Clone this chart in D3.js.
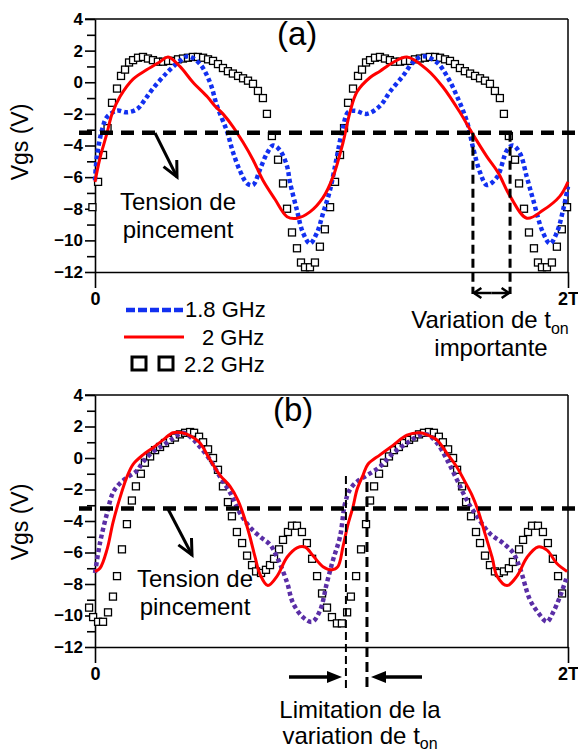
<!DOCTYPE html>
<html>
<head>
<meta charset="utf-8">
<script src="https://cdnjs.cloudflare.com/ajax/libs/d3/7.8.5/d3.min.js"></script>
<style>
	body { margin: 0; background: #fff; }
	svg { display: block; font-family: "Liberation Sans", Arial, sans-serif; }
	.ytk text { font-size: 17px; font-weight: bold; }
	.xtk text { font-size: 18px; font-weight: bold; }
</style>
</head>
<body>
<div id="chart"></div>
<script>
// time is in % of T (0..200 = 0..2T), Vgs in volts
var yTicks = [4, 2, 0, -2, -4, -6, -8, -10, -12];
var yMinor = [3, 1, -1, -3, -5, -7, -9, -11];
var xTickLabels = ["0", "2T"];
var seriesNames = ["1.8 GHz", "2 GHz", "2.2 GHz"];
var pinchOff = -3.2;

// (a)
var blueA = [[0,-6.2],[0.8,-4.7],[3.0,-3.0],[5.1,-2.2],[9.3,-1.8],[13.5,-1.9],[17.8,-1.7],[21.1,-1.1],[24.5,-0.4],[30.4,0.6],[35.9,1.35],[39.3,1.65],[44.4,1.15],[48.6,0.0],[51.6,-1.5],[55.8,-3.1],[58.3,-4.4],[61.3,-5.6],[64.3,-6.4],[66.8,-6.5],[69.8,-5.5],[72.7,-4.5],[75.3,-4.0],[78.2,-4.3],[81.2,-5.3],[82.4,-6.3],[85.4,-8.1],[87.9,-9.5],[90.9,-10.2],[93.9,-9.5],[96.4,-8.3],[99.4,-6.8],[102.3,-4.7],[104.9,-2.8],[107.0,-1.9],[109.9,-1.8],[115.0,-2.0],[120.5,-1.5],[124.7,-0.6],[130.2,0.4],[134.4,1.25],[138.7,1.65],[144.6,1.25],[148.8,0.4],[153.1,-0.9],[157.3,-2.5],[159.8,-4.1],[162.8,-5.7],[165.7,-6.5],[170.0,-6.0],[174.2,-4.3],[176.7,-4.0],[179.7,-4.5],[182.6,-6.0],[185.2,-7.4],[189.4,-9.5],[192.4,-10.2],[195.3,-9.5],[197.9,-8.1],[200,-6.6]];
var redA = [[0,-6.3],[2.1,-4.8],[5.1,-3.2],[7.2,-2.0],[10.6,-0.9],[16.1,0.2],[22.0,0.8],[27.5,1.3],[30.9,1.6],[35.9,1.0],[41.4,0.0],[47.4,-0.9],[50.7,-1.5],[54.1,-2.0],[58.3,-2.8],[62.6,-3.8],[66.8,-4.9],[71.0,-6.2],[76.1,-7.4],[81.2,-8.5],[85.4,-8.6],[90.9,-8.2],[96.4,-7.3],[100.6,-6.0],[104.9,-3.8],[107.8,-1.9],[110.8,-0.6],[116.3,0.3],[120.5,0.7],[126.0,1.25],[131.9,1.6],[140.4,0.8],[147.1,-0.3],[154.3,-1.9],[159.4,-3.2],[165.7,-4.7],[170.4,-5.7],[175.5,-7.2],[182.6,-8.6],[189.4,-8.1],[196.6,-7.2],[200,-6.3]];
var squaresA = [[-1.1,-7.9],[1.3,-6.3],[3.4,-4.6],[5.3,-2.9],[7.2,-1.3],[9.3,-0.4],[11.0,0.4],[12.7,0.8],[14.4,1.25],[16.1,1.4],[18.2,1.55],[20.3,1.6],[22.4,1.5],[24.5,1.4],[26.6,1.3],[28.8,1.3],[30.9,1.35],[33.0,1.35],[35.1,1.45],[37.2,1.5],[39.3,1.55],[41.4,1.6],[43.5,1.6],[45.7,1.55],[47.8,1.45],[49.9,1.35],[52.0,1.15],[54.1,0.9],[56.2,0.7],[58.3,0.55],[60.5,0.4],[62.6,0.25],[64.7,0.1],[66.8,-0.1],[68.9,-0.55],[71.0,-1.0],[72.7,-2.0],[74.8,-3.4],[77.4,-4.9],[79.5,-6.4],[81.2,-8.0],[83.3,-9.5],[85.4,-10.5],[87.1,-11.4],[88.8,-11.7],[90.9,-11.7],[93.0,-11.4],[95.1,-10.4],[97.2,-9.3],[99.4,-7.9],[101.5,-6.3],[103.6,-4.6],[105.3,-2.9],[107.0,-1.3],[109.1,-0.4],[111.2,0.4],[112.9,0.8],[114.6,1.25],[116.3,1.4],[118.4,1.55],[120.5,1.6],[122.6,1.5],[124.7,1.4],[126.8,1.3],[129.0,1.3],[131.1,1.35],[133.2,1.35],[135.3,1.45],[137.4,1.5],[139.5,1.55],[141.6,1.6],[143.8,1.6],[145.9,1.55],[148.0,1.45],[150.1,1.35],[152.2,1.15],[154.3,0.9],[156.4,0.7],[158.6,0.55],[160.7,0.4],[162.8,0.25],[164.9,0.1],[167.0,-0.1],[169.1,-0.55],[171.2,-1.0],[172.9,-2.0],[175.0,-3.4],[177.6,-4.9],[179.3,-6.4],[181.4,-8.0],[183.5,-9.5],[185.6,-10.5],[187.3,-11.4],[189.0,-11.7],[191.1,-11.7],[193.2,-11.4],[195.3,-10.4],[197.4,-9.3],[199.6,-7.9]];

// (b)
var purpleB = [[0,-7.3],[2.1,-5.4],[5.1,-3.5],[7.6,-2.2],[10.6,-1.6],[14.0,-1.2],[17.8,-0.8],[20.3,-0.25],[24.5,0.4],[28.8,0.8],[33.0,1.25],[37.2,1.6],[41.0,1.25],[44.4,0.7],[48.6,-0.1],[52.9,-1.2],[57.1,-2.2],[61.3,-3.5],[65.5,-4.4],[69.8,-5.0],[74.0,-5.5],[77.0,-6.3],[81.2,-7.9],[83.7,-9.2],[87.9,-10.1],[91.8,-10.4],[95.1,-9.7],[98.1,-7.9],[100.6,-6.5],[103.6,-5.0],[105.7,-2.9],[107.8,-2.0],[110.8,-1.5],[115.0,-1.1],[120.5,-0.55],[126.0,0.3],[131.9,0.95],[136.1,1.35],[140.4,1.5],[144.6,0.95],[148.8,-0.1],[153.1,-1.4],[157.3,-2.7],[161.5,-3.7],[167.0,-4.8],[172.5,-5.4],[176.7,-6.0],[179.7,-7.0],[183.9,-9.0],[187.3,-9.8],[191.1,-10.4],[193.7,-9.8],[196.6,-8.8],[199.6,-7.5]];
var redB = [[0,-7.2],[2.1,-7.0],[5.1,-5.8],[7.6,-4.1],[10.6,-2.5],[13.5,-1.2],[16.1,-0.4],[20.3,0.2],[24.5,0.65],[28.8,1.15],[33.0,1.6],[36.8,1.6],[41.0,1.35],[44.4,0.95],[48.6,-0.1],[52.9,-1.1],[57.1,-1.8],[60.5,-2.7],[63.4,-3.9],[65.5,-5.0],[67.7,-6.3],[69.8,-7.4],[73.1,-8.1],[77.0,-7.5],[81.2,-6.3],[85.4,-5.7],[88.8,-5.65],[92.2,-6.2],[96.4,-6.9],[100.2,-7.1],[102.7,-6.9],[104.9,-5.6],[107.0,-4.2],[109.1,-3.1],[110.8,-2.0],[113.3,-1.1],[115.4,-0.4],[120.5,0.2],[126.0,0.8],[131.9,1.45],[137.4,1.6],[140.8,1.45],[144.6,1.15],[148.8,0.3],[153.1,-0.6],[156.4,-1.5],[159.4,-2.35],[161.9,-3.3],[164.9,-4.8],[167.9,-6.3],[170.0,-7.5],[174.2,-8.1],[178.4,-7.5],[182.7,-6.3],[187.3,-5.65],[191.1,-5.85],[195.3,-6.7],[199.6,-7.2]];
var squaresB = [[-2.5,-9.5],[-0.8,-10.1],[1.3,-10.4],[3.4,-10.4],[5.5,-9.8],[7.6,-8.8],[9.3,-7.5],[11.4,-5.8],[13.5,-4.2],[15.6,-2.7],[17.3,-1.8],[19.4,-1.0],[21.1,-0.3],[23.3,0.1],[25.4,0.5],[27.5,0.7],[29.6,0.95],[31.7,1.15],[33.8,1.3],[35.9,1.5],[38.1,1.6],[40.2,1.65],[41.9,1.6],[44.0,1.35],[45.7,1.0],[47.8,0.55],[49.9,0.0],[52.0,-0.75],[54.1,-1.8],[56.2,-2.8],[57.9,-3.7],[60.0,-4.7],[62.2,-5.4],[64.3,-6.2],[66.4,-6.8],[68.1,-7.2],[70.2,-7.3],[72.3,-7.1],[74.0,-6.8],[75.7,-6.4],[77.8,-5.8],[79.5,-5.2],[81.6,-4.7],[83.3,-4.3],[85.4,-4.3],[87.5,-4.7],[89.6,-5.4],[91.8,-6.4],[93.9,-7.5],[96.0,-8.6],[98.1,-9.5],[100.2,-10.1],[102.3,-10.5],[104.4,-10.5],[106.6,-9.8],[108.2,-8.8],[110.4,-7.5],[112.5,-5.8],[114.6,-4.2],[116.3,-2.7],[118.0,-1.8],[120.1,-1.0],[122.2,-0.3],[124.3,0.1],[126.4,0.5],[128.5,0.7],[130.6,0.95],[132.8,1.15],[134.9,1.3],[137.0,1.5],[139.1,1.6],[141.2,1.65],[143.3,1.6],[145.4,1.35],[147.1,1.0],[149.3,0.55],[151.4,0.0],[153.1,-0.75],[155.2,-1.8],[156.9,-2.8],[159.0,-3.7],[161.1,-4.7],[162.8,-5.4],[164.9,-6.2],[167.0,-6.8],[169.1,-7.2],[170.8,-7.3],[172.9,-7.2],[175.0,-7.0],[176.7,-6.6],[179.3,-5.8],[181.0,-5.2],[183.1,-4.7],[184.8,-4.3],[187.3,-4.3],[189.4,-4.7],[191.5,-5.4],[193.6,-6.4],[195.8,-7.5],[197.5,-8.6]];

var W = 578, H = 754;
var svg = d3.select("#chart").append("svg").attr("width", W).attr("height", H);
var x = d3.scaleLinear().domain([0, 200]).range([95, 568]);

var line = d3.line().curve(d3.curveCatmullRom.alpha(0.5))
	.x(function(d) { return x(d[0]); });

function openArrow(g, x1, y1, x2, y2, len, ang, w) {
	g.append("line").attr("x1", x1).attr("y1", y1).attr("x2", x2).attr("y2", y2)
		.attr("stroke", "#000").attr("stroke-width", w);
	var a = Math.atan2(y2 - y1, x2 - x1);
	var p = [[x2 - len * Math.cos(a - ang), y2 - len * Math.sin(a - ang)], [x2, y2],
		[x2 - len * Math.cos(a + ang), y2 - len * Math.sin(a + ang)]];
	g.append("path").attr("d", d3.line()(p)).attr("fill", "none")
		.attr("stroke", "#000").attr("stroke-width", w).attr("stroke-linejoin", "miter");
}

function solidArrow(g, x1, y, x2) {
	var dir = x2 > x1 ? 1 : -1;
	g.append("line").attr("x1", x1).attr("y1", y).attr("x2", x2 - dir * 10).attr("y2", y)
		.attr("stroke", "#000").attr("stroke-width", 3.5);
	g.append("path").attr("d", d3.line()([[x2, y], [x2 - dir * 15, y - 6], [x2 - dir * 15, y + 6]]) + "Z")
		.attr("fill", "#000");
}

function panel(cfg) {
	var y = d3.scaleLinear().domain([-12, 4]).range(cfg.yRange);
	var g = svg.append("g");
	line.y(function(d) { return y(d[1]); });

	// frame
	g.append("line").attr("x1", 85).attr("x2", x(200)).attr("y1", y(4)).attr("y2", y(4))
		.attr("stroke", "#000").attr("stroke-width", 1.5);
	g.append("line").attr("x1", x(200)).attr("x2", x(200)).attr("y1", y(4)).attr("y2", y(-12))
		.attr("stroke", "#000").attr("stroke-width", 1.5);

	g.append("g").attr("class", "ytk").attr("transform", "translate(" + x(0) + ",0)")
		.call(d3.axisLeft(y).tickValues(yTicks).tickSize(10).tickPadding(2).tickSizeOuter(0));
	g.append("g").attr("transform", "translate(" + x(0) + ",0)")
		.call(d3.axisLeft(y).tickValues(yMinor).tickSize(8).tickFormat("").tickSizeOuter(0))
		.select(".domain").remove();
	g.append("g").attr("class", "xtk").attr("transform", "translate(0," + y(-12) + ")")
		.call(d3.axisBottom(x).tickValues([0, 200]).tickSize(16).tickPadding(4).tickSizeOuter(0)
			.tickFormat(function(d, i) { return xTickLabels[i]; }));
	g.selectAll(".tick line, .domain").attr("stroke", "#000").attr("stroke-width", 1.6);
	g.selectAll(".tick text").attr("font-family", "Liberation Sans, Arial, sans-serif").attr("fill", "#000");

	g.append("text").attr("transform", "translate(28," + cfg.labelY + ") rotate(-90)")
		.attr("text-anchor", "middle").attr("font-size", 23).text("Vgs (V)");
	g.append("text").attr("x", cfg.tagX).attr("y", y(4) + 26).attr("font-size", 33).text(cfg.tag);

	// curves
	g.selectAll(".sq").data(cfg.squares).enter().append("rect")
		.attr("x", function(d) { return x(d[0]) - 3.5; })
		.attr("y", function(d) { return y(d[1]) - 3.5; })
		.attr("width", 7).attr("height", 7)
		.attr("fill", "#fff").attr("stroke", "#000").attr("stroke-width", 1.3);
	g.append("path").attr("d", line(cfg.dotted)).attr("fill", "none")
		.attr("stroke", cfg.dotColor).attr("stroke-width", 4.5).attr("stroke-dasharray", "4,3");
	g.append("path").attr("d", line(cfg.red)).attr("fill", "none")
		.attr("stroke", "#ff0000").attr("stroke-width", 3);

	// pinch-off threshold
	g.append("line").attr("x1", 79).attr("x2", 578).attr("y1", y(pinchOff)).attr("y2", y(pinchOff))
		.attr("stroke", "#000").attr("stroke-width", 4.5).attr("stroke-dasharray", "13,8");
	openArrow(g, cfg.arrow[0], cfg.arrow[1], cfg.arrow[2], cfg.arrow[3], 17, 0.45, 3);
	g.append("text").attr("x", cfg.tensionX).attr("y", cfg.tensionY).attr("text-anchor", "middle")
		.attr("font-size", 24).text("Tension de");
	g.append("text").attr("x", cfg.tensionX).attr("y", cfg.tensionY + 28).attr("text-anchor", "middle")
		.attr("font-size", 24).text("pincement");
	return {g: g, y: y};
}

var pa = panel({yRange: [272, 19], labelY: 142, tag: "(a)", tagX: 277, squares: squaresA,
	dotted: blueA, dotColor: "#1230f0", red: redA, arrow: [155, 133, 177, 177],
	tensionX: 178, tensionY: 210});
var pb = panel({yRange: [647, 395], labelY: 522, tag: "(b)", tagX: 273, squares: squaresB,
	dotted: purpleB, dotColor: "#5a2ea6", red: redB, arrow: [168, 509, 192, 555],
	tensionX: 195, tensionY: 587});

// legend (a)
var lg = pa.g.append("g");
lg.append("line").attr("x1", 126).attr("x2", 184).attr("y1", 310).attr("y2", 310)
	.attr("stroke", "#1230f0").attr("stroke-width", 4.5).attr("stroke-dasharray", "9,3");
lg.append("line").attr("x1", 124).attr("x2", 184).attr("y1", 337).attr("y2", 337)
	.attr("stroke", "#ff0000").attr("stroke-width", 3);
[139, 166].forEach(function(cx) {
	lg.append("rect").attr("x", cx - 7).attr("y", 357).attr("width", 14).attr("height", 13)
		.attr("fill", "#fff").attr("stroke", "#000").attr("stroke-width", 3);
});
lg.append("text").attr("x", 185).attr("y", 317).attr("font-size", 22).text(seriesNames[0]);
lg.append("text").attr("x", 202).attr("y", 345).attr("font-size", 22).text(seriesNames[1]);
lg.append("text").attr("x", 184).attr("y", 372).attr("font-size", 22).text(seriesNames[2]);

// t_on variation (a)
[159.8, 175.5].forEach(function(u) {
	pa.g.append("line").attr("x1", x(u)).attr("x2", x(u)).attr("y1", pa.y(pinchOff)).attr("y2", 294)
		.attr("stroke", "#000").attr("stroke-width", 3).attr("stroke-dasharray", "9,5");
});
openArrow(pa.g, x(167.6), 293, x(159.8) + 1, 293, 9, 0.6, 2.5);
openArrow(pa.g, x(167.6), 293, x(175.5) - 1, 293, 9, 0.6, 2.5);
var ta = pa.g.append("text").attr("x", 490).attr("y", 328).attr("text-anchor", "middle").attr("font-size", 24);
ta.append("tspan").text("Variation de t");
ta.append("tspan").attr("font-size", 16).attr("dy", 6).text("on");
pa.g.append("text").attr("x", 491).attr("y", 356).attr("text-anchor", "middle").attr("font-size", 24).text("importante");

// t_on limitation (b)
pb.g.append("line").attr("x1", x(106.1)).attr("x2", x(106.1)).attr("y1", 476).attr("y2", 690)
	.attr("stroke", "#000").attr("stroke-width", 2).attr("stroke-dasharray", "8,4");
pb.g.append("line").attr("x1", x(115.0)).attr("x2", x(115.0)).attr("y1", 482).attr("y2", 690)
	.attr("stroke", "#000").attr("stroke-width", 3).attr("stroke-dasharray", "10,5");
solidArrow(pb.g, 289, 677, 342);
solidArrow(pb.g, 422, 677, 371);
pb.g.append("text").attr("x", 360).attr("y", 718).attr("text-anchor", "middle").attr("font-size", 24).text("Limitation de la");
var tb = pb.g.append("text").attr("x", 360).attr("y", 744).attr("text-anchor", "middle").attr("font-size", 24);
tb.append("tspan").text("variation de t");
tb.append("tspan").attr("font-size", 16).attr("dy", 5).text("on");
</script>
</body>
</html>
